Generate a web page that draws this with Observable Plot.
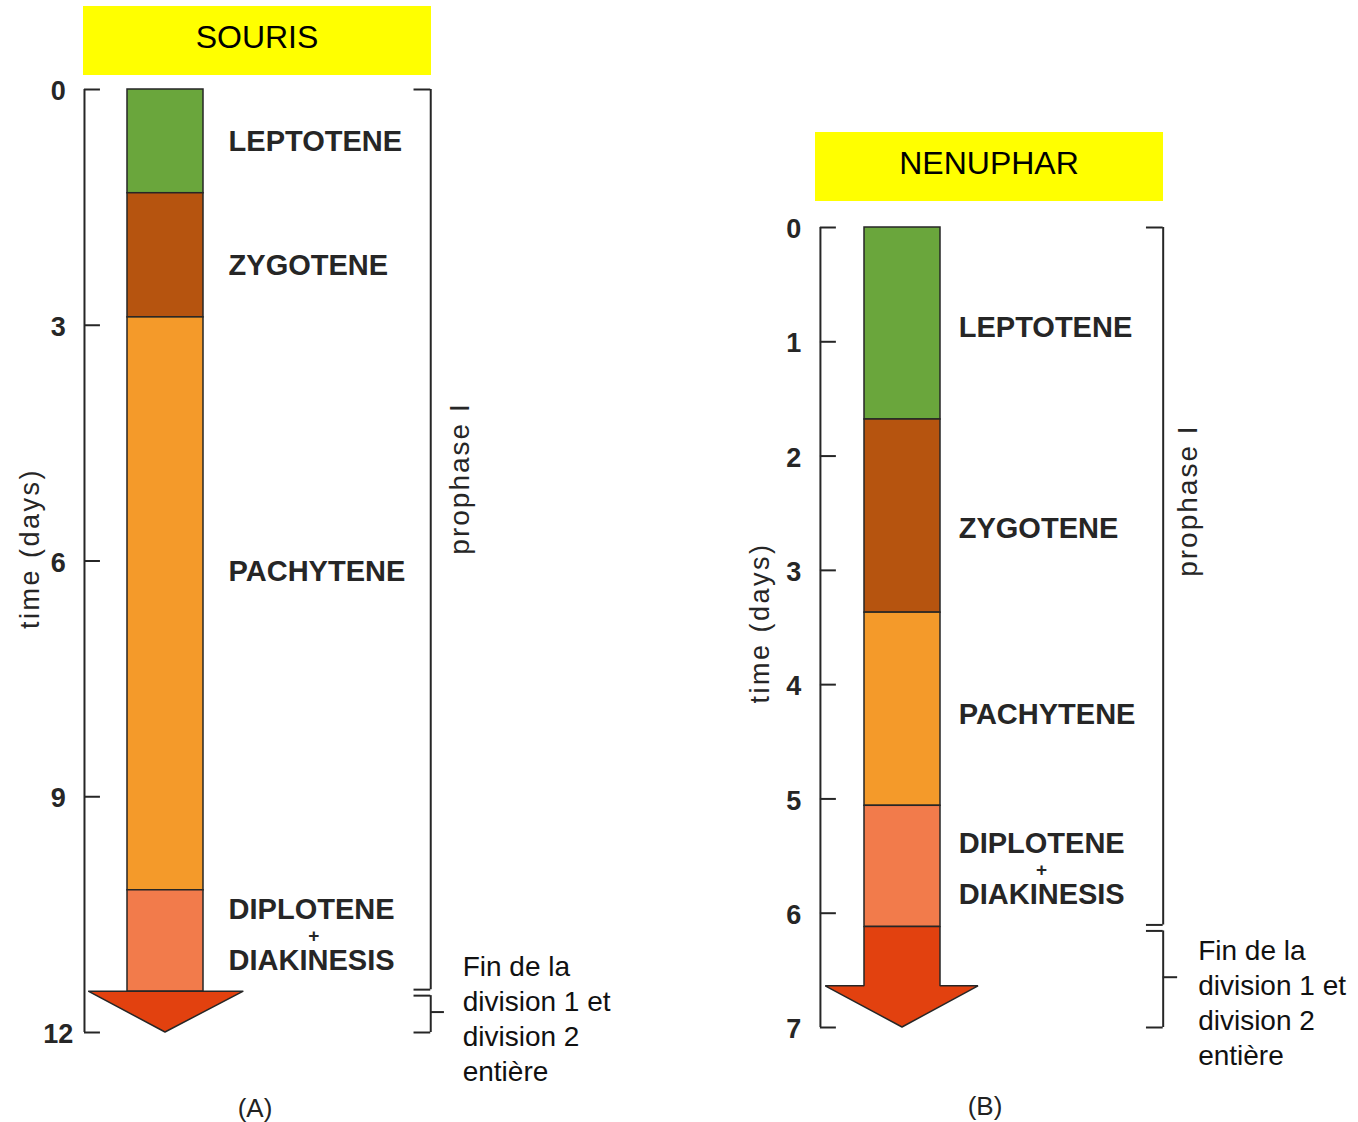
<!DOCTYPE html>
<html>
<head>
<meta charset="utf-8">
<script src="https://cdn.jsdelivr.net/npm/d3@7"></script>
<script src="https://cdn.jsdelivr.net/npm/@observablehq/plot@0.6"></script>
<style>
html, body { margin: 0; padding: 0; background: #fff; }
#page { position: relative; width: 1358px; height: 1122px; overflow: hidden; font-family: "Liberation Sans", Arial, sans-serif; }
.panel { position: absolute; top: 0; }
.title { position: absolute; background: #ffff00; color: #000; font-size: 32px; display: flex; align-items: center; justify-content: center; padding-bottom: 6px; box-sizing: border-box; z-index: 2; }
.cap { position: absolute; font-size: 26px; color: #222; transform: translate(-50%, -50%); z-index: 2; }
g[aria-description="ylabel"] text { letter-spacing: 2.5px; }
g[aria-description="phaselabel"] text { letter-spacing: 2px; }
</style>
</head>
<body>
<div id="page"></div>
<script>
// ---------- data ----------
const stageNames = ["LEPTOTENE", "ZYGOTENE", "PACHYTENE", "DIPLOTENE + DIAKINESIS"];
const phaseNames = ["prophase I", "Fin de la\ndivision 1 et\ndivision 2\nentière"];
const axisLabel = "time (days)";
const titles = ["SOURIS", "NENUPHAR"];
const captions = ["(A)", "(B)"];

// stage boundaries in days (start of leptotene ... end of diplotene/diakinesis)
const sourisBounds = [0, 1.32, 2.9, 10.19, 11.48];
const nenupharBounds = [0, 1.68, 3.37, 5.06, 6.12];
// arrow: start of shaft, start of head, tip (days)
const sourisArrow = [11.48, 11.48, 12];
const nenupharArrow = [6.12, 6.64, 7];
// axis ticks (days)
const sourisTicks = [0, 3, 6, 9, 12];
const nenupharTicks = [0, 1, 2, 3, 4, 5, 6, 7];
// where each stage label sits (days)
const sourisLabelAt = [0.66, 2.24, 6.14, 10.67];
const nenupharLabelAt = [0.875, 2.64, 4.26, 5.55];

// ---------- styles ----------
const stageColors = ["#6aa63c", "#b6540f", "#f49a2a", "#f27b4b"];
const arrowColor = "#e2410f";
const ink = "#262626";

// layout (x in bar-width units, bar spans 0..1)
const layouts = [
  { left: 0, barL: 127, barR: 203, y0: 89, y1: 1032,
    axisX: -0.566, tickLen: 0.21, tickLabelX: -0.91, ylabX: -1.28, ylabY: 5.84,
    labelX: 1.33, plusX: 2.45, plusDy: 8, headL: -0.51, headR: 1.53,
    bracketX: 3.99, serif: 0.22, bTick: 0.18, prophX: 4.38, prophY: 4.95, finX: 4.41, finDy: 5,
    title: { left: 83, top: 6, width: 348, height: 69 }, cap: { x: 255, y: 1108 } },
  { left: 679, barL: 185, barR: 261, y0: 227, y1: 1027,
    axisX: -0.58, tickLen: 0.21, tickLabelX: -0.93, ylabX: -1.37, ylabY: 3.46,
    labelX: 1.24, plusX: 2.33, plusDy: 8, headL: -0.51, headR: 1.5,
    bracketX: 3.93, serif: 0.22, bTick: 0.19, prophX: 4.26, prophY: 2.39, finX: 4.39, finDy: 24,
    title: { left: 815, top: 132, width: 348, height: 69 }, cap: { x: 985, y: 1106 } }
];

const panels = [
  { bounds: sourisBounds, arrow: sourisArrow, ticks: sourisTicks, labelAt: sourisLabelAt, L: layouts[0], title: titles[0], caption: captions[0] },
  { bounds: nenupharBounds, arrow: nenupharArrow, ticks: nenupharTicks, labelAt: nenupharLabelAt, L: layouts[1], title: titles[1], caption: captions[1] }
];

function drawPanel(p) {
  const { bounds, arrow, ticks, labelAt, L } = p;
  const total = ticks[ticks.length - 1];
  const stages = stageNames.map((name, i) => ({ name, start: bounds[i], end: bounds[i + 1], labelAt: labelAt[i] }));
  const diploEnd = bounds[bounds.length - 1];
  const phases = [
    { name: phaseNames[0], start: 0, end: diploEnd },
    { name: phaseNames[1], start: diploEnd, end: total }
  ];
  const arrowPts = [
    { y: arrow[0], x1: 0, x2: 1 },
    { y: arrow[1], x1: 0, x2: 1 },
    { y: arrow[1], x1: L.headL, x2: L.headR },
    { y: arrow[2], x1: 0.5, x2: 0.5 }
  ];
  const single = stages.filter(d => !d.name.includes("+"));
  const multi = stages.filter(d => d.name.includes("+"));
  const bx = L.bracketX;
  const bStroke = { stroke: ink, strokeWidth: 2 };

  return Plot.plot({
    width: 679,
    height: 1122,
    margin: 0,
    style: { fontFamily: "Liberation Sans, Arial, sans-serif", background: "none", overflow: "visible" },
    x: { domain: [0, 1], range: [L.barL, L.barR], axis: null },
    y: { domain: [0, total], range: [L.y0, L.y1], axis: null },
    color: { domain: stageNames, range: stageColors },
    marks: [
      // time axis drawn as bracket line with inward ticks
      Plot.ruleX([L.axisX], { x: d => d, y1: 0, y2: total, ...bStroke }),
      Plot.ruleY(ticks, { y: d => d, x1: L.axisX, x2: L.axisX + L.tickLen, ...bStroke }),
      Plot.text(ticks, { y: d => d, x: L.tickLabelX, dy: 2, text: d => String(d), fontSize: 27, fontWeight: "bold", fill: ink }),
      Plot.text([axisLabel], { x: L.ylabX, y: L.ylabY, text: d => d, rotate: -90, fontSize: 27, fill: ink, ariaDescription: "ylabel" }),
      // stages
      Plot.rect(stages, { x1: 0, x2: 1, y1: "start", y2: "end", fill: "name", stroke: ink, strokeWidth: 1.5 }),
      // arrow
      Plot.areaX(arrowPts, { y: "y", x1: "x1", x2: "x2", fill: arrowColor, stroke: ink, strokeWidth: 1.5, strokeLinejoin: "miter" }),
      // stage labels
      Plot.text(single, { x: L.labelX, y: "labelAt", text: "name", textAnchor: "start", fontSize: 29, fontWeight: "bold", fill: ink }),
      Plot.text(multi, { x: L.labelX, y: "labelAt", text: d => d.name.split(" + ").join("\n"), textAnchor: "start", lineHeight: 1.76, fontSize: 29, fontWeight: "bold", fill: ink }),
      Plot.text(multi, { x: L.plusX, y: "labelAt", dy: L.plusDy, text: () => "+", fontSize: 19, fontWeight: "bold", fill: ink }),
      // prophase bracket
      Plot.ruleX([phases[0]], { x: bx, y1: "start", y2: "end", insetBottom: 2, ...bStroke }),
      Plot.ruleY([phases[0]], { y: "start", x1: bx - L.serif, x2: bx, ...bStroke }),
      Plot.ruleY([phases[0]], { y: "end", dy: -2, x1: bx - L.serif, x2: bx, ...bStroke }),
      Plot.text([phases[0]], { x: L.prophX, y: L.prophY, text: "name", rotate: -90, fontSize: 28, fill: ink, ariaDescription: "phaselabel" }),
      // end-of-division bracket
      Plot.ruleX([phases[1]], { x: bx, y1: "start", y2: "end", insetTop: 4, ...bStroke }),
      Plot.ruleY([phases[1]], { y: "start", dy: 4, x1: bx - L.serif, x2: bx, ...bStroke }),
      Plot.ruleY([phases[1]], { y: "end", x1: bx - L.serif, x2: bx, ...bStroke }),
      Plot.ruleY([phases[1]], { y: d => (d.start + d.end) / 2, x1: bx, x2: bx + L.bTick, ...bStroke }),
      Plot.text([phases[1]], { x: L.finX, y: d => (d.start + d.end) / 2, dy: L.finDy, text: "name", textAnchor: "start", fontSize: 28, lineHeight: 1.25, fill: "#111" })
    ]
  });
}

const page = document.getElementById("page");
for (const p of panels) {
  const wrap = document.createElement("div");
  wrap.className = "panel";
  wrap.style.left = p.L.left + "px";
  wrap.appendChild(drawPanel(p));
  page.appendChild(wrap);

  const t = document.createElement("div");
  t.className = "title";
  Object.assign(t.style, { left: p.L.title.left + "px", top: p.L.title.top + "px", width: p.L.title.width + "px", height: p.L.title.height + "px" });
  t.textContent = p.title;
  page.appendChild(t);

  const c = document.createElement("div");
  c.className = "cap";
  c.style.left = p.L.cap.x + "px";
  c.style.top = p.L.cap.y + "px";
  c.textContent = p.caption;
  page.appendChild(c);
}
</script>
</body>
</html>
